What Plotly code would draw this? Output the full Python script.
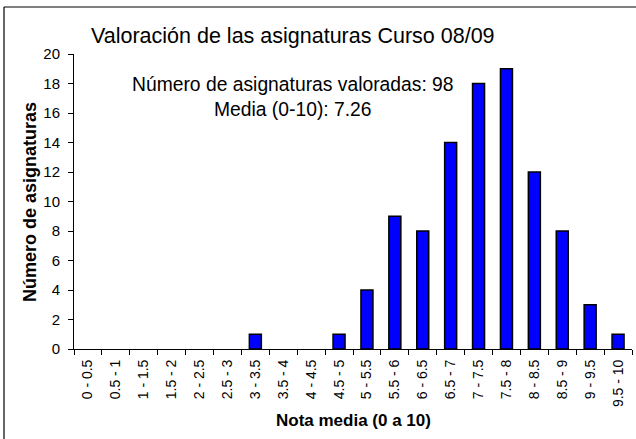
import plotly.graph_objects as go

categories = ["0 - 0.5", "0.5 - 1", "1 - 1.5", "1.5 - 2", "2 - 2.5", "2.5 - 3",
              "3 - 3.5", "3.5 - 4", "4 - 4.5", "4.5 - 5", "5 - 5.5", "5.5 - 6",
              "6 - 6.5", "6.5 - 7", "7 - 7.5", "7.5 - 8", "8 - 8.5", "8.5 - 9",
              "9 - 9.5", "9.5 - 10"]
counts = [0, 0, 0, 0, 0, 0, 1, 0, 0, 1, 4, 9, 8, 14, 18, 19, 12, 8, 3, 1]
y_ticks = [0, 2, 4, 6, 8, 10, 12, 14, 16, 18, 20]

title_text = "Valoración de las asignaturas Curso 08/09"
note_lines = ["Número de asignaturas valoradas: 98", "Media (0-10): 7.26"]
x_title = "Nota media (0 a 10)"
y_title = "Número de asignaturas"

W, H = 636, 439
L, R, T, B = 74, 4, 54, 90
pw, ph = W - L - R, H - T - B

def px(x):
    return (x - L) / pw

def py(y):
    return (H - B - y) / ph

font = "Liberation Sans, Arial, sans-serif"

fig = go.Figure()
fig.add_trace(go.Bar(
    x=categories, y=counts,
    marker=dict(color="#0000FF",
                line=dict(color="black", width=[1.5 if c > 0 else 0 for c in counts])),
    width=0.43,
))

fig.update_layout(
    template="none",
    width=W, height=H,
    margin=dict(l=L, r=R, t=T, b=B, pad=0),
    paper_bgcolor="white", plot_bgcolor="white",
    showlegend=False,
    font=dict(family=font, color="black"),
    xaxis=dict(
        type="category", range=[-0.5, 19.5], automargin=False,
        showline=True, linecolor="black", linewidth=1,
        ticks="outside", ticklen=5, tickcolor="black", tickwidth=1,
        tickson="boundaries",
        tickangle=-90, tickfont=dict(size=14, family=font),
        ticklabelstandoff=4,
        showgrid=False, zeroline=False,
    ),
    yaxis=dict(
        range=[0, 20], tickvals=y_ticks, automargin=False,
        showline=True, linecolor="black", linewidth=1,
        ticks="outside", ticklen=5, tickcolor="black", tickwidth=1,
        tickfont=dict(size=15, family=font),
        ticklabelstandoff=5,
        showgrid=False, zeroline=False,
    ),
)

fig.add_annotation(text=title_text, xref="paper", yref="paper",
                   x=px(293), y=py(36), showarrow=False,
                   font=dict(size=21.5, family=font), xanchor="center", yanchor="middle")
fig.add_annotation(text="<br>".join(note_lines), xref="paper", yref="paper",
                   x=px(293), y=py(97), showarrow=False, align="center",
                   font=dict(size=19.3, family=font), xanchor="center", yanchor="middle")
fig.add_annotation(text="<b>" + x_title + "</b>", xref="paper", yref="paper",
                   x=px(353), y=py(420), showarrow=False,
                   font=dict(size=17, family=font), xanchor="center", yanchor="middle")
fig.add_annotation(text="<b>" + y_title + "</b>", xref="paper", yref="paper",
                   x=px(30), y=py(202), showarrow=False, textangle=-90,
                   font=dict(size=18, family=font), xanchor="center", yanchor="middle")

# outer chart frame (top and left edges visible in the reference)
fig.add_shape(type="line", xref="paper", yref="paper",
              x0=px(4), x1=px(W), y0=py(7), y1=py(7),
              line=dict(color="black", width=1.2), layer="below")
fig.add_shape(type="line", xref="paper", yref="paper",
              x0=px(4), x1=px(4), y0=py(7), y1=py(H),
              line=dict(color="black", width=1.2), layer="below")

fig.write_html("out.html",
               config={"displayModeBar": False},
               post_script="document.body.style.margin='0';document.body.style.overflow='hidden';")
